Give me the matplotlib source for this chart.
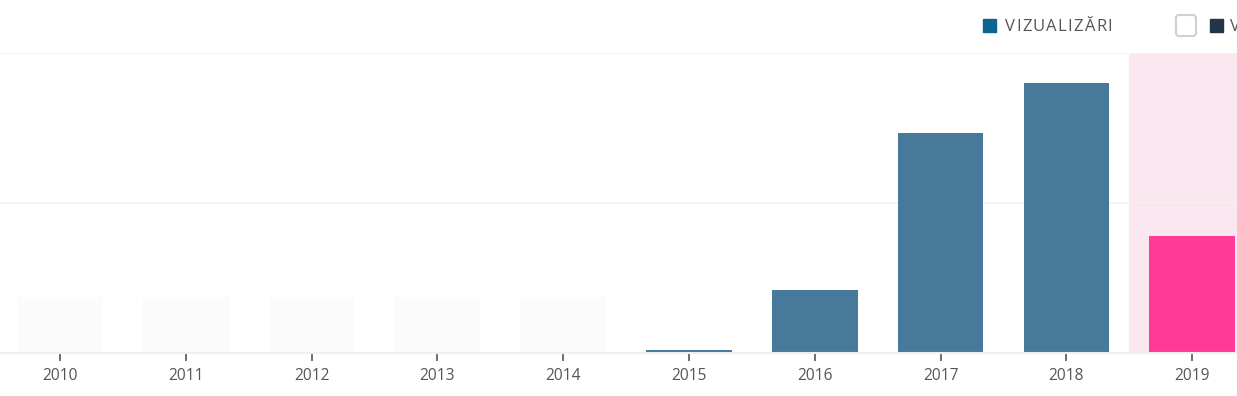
import matplotlib.pyplot as plt
from matplotlib.patches import FancyBboxPatch, Rectangle

years = ["2010", "2011", "2012", "2013", "2014", "2015", "2016", "2017", "2018", "2019"]
views = [0, 0, 0, 0, 0, 40, 840, 2935, 3600, 1560]
placeholder = [750, 750, 750, 750, 750, 0, 0, 0, 0, 0]
y_ticks = [0, 2000, 4000]
legend_label = "VIZUALIZĂRI"

plt.rcParams["font.family"] = ["Open Sans", "DejaVu Sans"]

fig = plt.figure(figsize=(12.37, 3.96), dpi=100)
ax = fig.add_axes([0, 43 / 396, 1, 300 / 396])

x = list(range(len(years)))
current = len(years) - 1

# highlighted current period
ax.axvspan(current - 0.5, current + 0.5, color="#fae7f0", zorder=0, lw=0)

# empty-year placeholders
ax.bar(x, placeholder, width=0.68, color="#fbfbfb", zorder=1)
colors = ["#47799a"] * (len(years) - 1) + ["#ff3a98"]
ax.bar(x, views, width=0.68, color=colors, zorder=2)

ax.set_xlim(-60 / 125.8, (1237 - 60) / 125.8)
ax.set_ylim(0, y_ticks[-1])
ax.set_yticks(y_ticks)
ax.yaxis.grid(True, color="#f2f2f2", lw=1.2)
ax.set_axisbelow(True)
ax.tick_params(axis="y", left=False, labelleft=False)
ax.set_xticks(x)
ax.set_xticklabels(years)
ax.tick_params(axis="x", length=6, width=1.2, color="#555555", labelcolor="#555555",
               labelsize=11.2, pad=5)
for s in ["top", "right", "left"]:
    ax.spines[s].set_visible(False)
ax.spines["bottom"].set_color("#f0f0f0")
ax.spines["bottom"].set_linewidth(1.5)

# legend
fig.patches.append(Rectangle((983, 396 - 32), 13, 13, transform=None,
                             color="#0e6490", figure=fig))
renderer = fig.canvas.get_renderer()
chars = []
total = 0
for ch in legend_label:
    t = fig.text(0, (396 - 27) / 396, ch, fontsize=12, color="#555555",
                 va="center", ha="left")
    w = t.get_window_extent(renderer).width
    chars.append((t, w))
    total += w
gap = (1112 - 1005 - total) / (len(legend_label) - 1)
xp = 1005
for t, w in chars:
    t.set_x(xp / 1237)
    xp += w + gap
fig.patches.append(FancyBboxPatch((1176, 396 - 36), 20, 21, transform=None,
                                  boxstyle="round,pad=0,rounding_size=3",
                                  fc="white", ec="#d0d0d0", lw=1.5, figure=fig))
fig.patches.append(Rectangle((1210, 396 - 32), 13, 13, transform=None,
                             color="#23344b", figure=fig))
fig.text(1230 / 1237, (396 - 27) / 396, "V", fontsize=12, color="#555555",
         va="center", ha="left")

fig.savefig("out.png", dpi=100)
